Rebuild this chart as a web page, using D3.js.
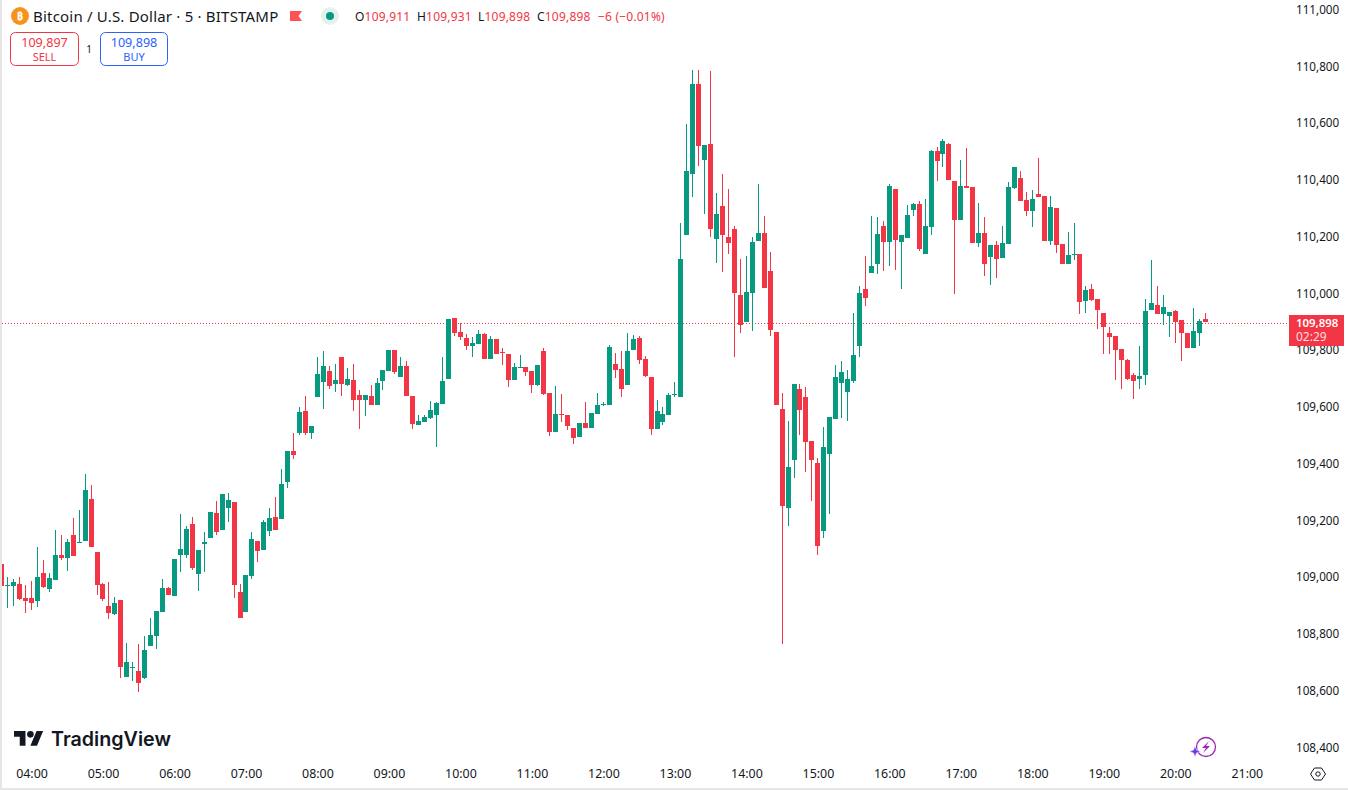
<![CDATA[<!DOCTYPE html>
<html><head><meta charset="utf-8">
<script src="https://cdnjs.cloudflare.com/ajax/libs/d3/7.8.5/d3.min.js"></script>
<style>
html,body{margin:0;padding:0;background:#fff;overflow:hidden}
svg{display:block}
text{font-family:"Noto Sans",sans-serif}
.axis text{font-size:11.7px;fill:#131722}
.taxis text{font-size:12.4px}
</style></head><body><svg id="c" width="1348" height="790"></svg>
<script>
const opens=[109046,108969,108969,108976,108927,108927,108916,109015,108958,108990,109078,109068,109149,109120,109127,109276,109089,108976,108898,108870,108919,108648,108680,108669,108645,108757,108793,108877,108962,108934,109078,109078,109187,109011,109117,109138,109226,109166,109244,109265,108948,108877,109004,109127,109096,109163,109212,109205,
109336,109445,109508,109586,109508,109635,109688,109727,109681,109776,109678,109695,109642,109625,109639,109607,109692,109727,109801,109706,109745,109639,109537,109547,109561,109572,109611,109699,109914,109864,109843,109815,109822,109857,109769,109840,109794,109787,109695,109738,109741,109727,109678,109797,109649,109512,109575,109572,
109526,109494,109543,109526,109575,109607,109607,109751,109734,109677,109801,109843,109769,109706,109522,109547,109572,109642,109635,110206,110421,110738,110470,110527,110192,110308,110199,110227,109995,109899,110002,110185,110213,110079,109864,
109593,109244,109413,109664,109636,109480,109403,109163,109435,109558,109685,109653,
109692,109815,110016,110072,110104,110238,110182,110369,110182,110196,110295,110316,110140,110235,110503,110492,110527,110397,110259,
110379,110375,110178,110213,110129,110171,110125,110174,110372,110407,110330,110291,110351,110344,110185,110301,110174,110104,110136,110139,109973,110016,109981,109931,109861,109850,109804,109765,109713,109699,109713,109942,109959,109928,109921,109938,109906,109861,109808,109861,109911];
const highs=[109046,109001,108994,109001,108972,108986,109106,109060,109015,109166,109149,109135,109209,109237,109364,109325,109089,108979,108983,108930,108919,108768,108701,108764,108793,108856,108881,108994,108965,109064,109223,109180,109212,109096,109159,109230,109268,109293,109297,109265,108976,109008,109159,109127,109201,109244,109283,109381,
109445,109508,109600,109639,109533,109776,109797,109745,109752,109776,109738,109752,109660,109642,109678,109702,109730,109801,109801,109776,109762,109639,109572,109572,109621,109618,109776,109910,109914,109896,109857,109847,109871,109861,109850,109840,109808,109787,109755,109783,109741,109727,109748,109808,109649,109674,109646,109572,
109526,109543,109617,109579,109649,109617,109818,109790,109797,109861,109854,109850,109780,109706,109624,109600,109649,109688,110248,110597,110788,110788,110523,110784,110354,110421,110368,110238,110122,110132,110199,110386,110273,110146,109864,
109650,109551,109681,109681,109671,109480,109421,109530,109565,109748,109762,109731,
109931,110027,110132,110273,110270,110256,110386,110369,110206,110312,110319,110326,110333,110506,110517,110545,110531,110397,110471,
110513,110375,110319,110270,110171,110185,110238,110393,110446,110432,110358,110365,110478,110344,110344,110301,110174,110217,110248,110139,110026,110033,109981,109931,109882,109850,109804,109769,109720,109815,109981,110118,110026,109995,109935,109942,109906,109861,109949,109910,109931];
const lows=[108958,108891,108898,108919,108874,108884,108895,108962,108948,108990,109060,109022,109075,109120,109127,109106,108937,108916,108853,108867,108645,108648,108634,108595,108641,108757,108747,108877,108937,108934,109018,109068,109025,108951,109018,109138,109149,109166,109194,108927,108856,108877,108994,109053,109096,109145,109166,109205,
109315,109417,109501,109501,109487,109635,109593,109664,109653,109639,109674,109586,109523,109568,109607,109607,109660,109727,109716,109706,109639,109523,109537,109547,109558,109459,109611,109699,109850,109836,109801,109776,109822,109769,109769,109787,109748,109671,109695,109738,109709,109649,109674,109642,109498,109512,109547,109519,
109469,109494,109526,109526,109575,109603,109607,109702,109635,109677,109801,109751,109706,109501,109522,109536,109572,109635,109635,110206,110340,110449,110280,110199,110107,110076,110139,109776,109861,109899,109868,110185,110019,109850,109607,
108765,109181,109350,109502,109371,109269,109079,109139,109223,109558,109562,109551,
109685,109776,109956,110072,110069,110080,110097,110083,110016,110196,110273,110150,110140,110206,110397,110446,110400,109998,110259,
110372,110178,110164,110062,110030,110055,110125,110174,110368,110326,110273,110234,110340,110185,110171,110143,110104,110104,110118,109928,109931,109973,109875,109787,109787,109695,109663,109695,109628,109663,109677,109942,109928,109889,109847,109825,109762,109808,109808,109815,109898];
const closes=[108969,108972,108983,108923,108916,108909,109001,108965,108997,109078,109068,109124,109075,109124,109307,109106,108972,108923,108874,108909,108683,108701,108683,108627,108743,108796,108881,108962,108937,109064,109099,109170,109032,109096,109124,109230,109159,109293,109272,108972,108856,109008,109135,109092,109194,109209,109166,109328,
109445,109431,109582,109508,109533,109716,109745,109674,109695,109681,109699,109625,109625,109642,109607,109685,109730,109801,109723,109745,109639,109540,109551,109565,109590,109614,109692,109910,109861,109847,109815,109826,109857,109769,109840,109787,109790,109695,109741,109741,109723,109678,109748,109646,109512,109575,109572,109533,
109491,109543,109526,109579,109607,109610,109811,109730,109663,109797,109840,109765,109709,109522,109586,109575,109642,109646,110122,110432,110738,110520,110523,110227,110280,110206,110178,110002,109889,110005,110181,110213,110019,109871,109607,
109251,109389,109681,109590,109477,109413,109110,109459,109565,109706,109724,109699,
109783,110002,109984,110097,110210,110182,110379,110189,110206,110277,110316,110157,110238,110503,110467,110538,110400,110259,110379,
110372,110178,110213,110104,110171,110122,110178,110375,110446,110326,110291,110333,110340,110185,110305,110171,110104,110136,110139,109970,110012,109977,109942,109882,109847,109801,109765,109699,109691,109709,109938,109966,109928,109952,109935,109900,109861,109808,109868,109903,109898];
const priceTicks=[111000,110800,110600,110400,110200,110000,109800,109600,109400,109200,109000,108800,108600,108400];
const hourTicks=[4,5,6,7,8,9,10,11,12,13,14,15,16,17,18,19,20,21];
const lastPrice=109898, sellPrice="109,897", buyPrice="109,898", countdown="02:29";
const title="Bitcoin / U.S. Dollar · 5 · BITSTAMP";
const ohlcLegend=[["O","109,911",355],["H","109,931",417],["L","109,898",478],["C","109,898",537]];
const changeText="−6 (−0.01%)";

const UP="#089981",DOWN="#F23645",INK="#131722";
const svg=d3.select("#c");
const y=d3.scaleLinear().domain([108400,111000]).range([747.3,9.7]);
const t0=Date.UTC(2025,0,1,0,0);
const hour=h=>new Date(t0+h*3600e3);
const x=d3.scaleUtc().domain([hour(4),hour(21)]).range([31.5,1246.8]);
const candleTime=i=>new Date(hour(4).getTime()+(i-5)*300e3);
const px=i=>Math.floor(x(candleTime(i)));

// price axis (under the last-price label)
const ya=svg.append("g").attr("class","axis").attr("transform","translate(1290,0)")
 .call(d3.axisRight(y).tickValues(priceTicks).tickSize(0).tickPadding(6).tickFormat(d3.format(",")));
ya.select(".domain").remove();
// time axis
const xa=svg.append("g").attr("class","axis taxis").attr("transform","translate(0,769)")
 .call(d3.axisBottom(x).tickValues(hourTicks.map(hour)).tickSize(0).tickPadding(0).tickFormat(d3.utcFormat("%H:%M")));
xa.select(".domain").remove();
xa.selectAll("text").attr("dy","0.71em");

// last price line
svg.append("line").attr("x1",2).attr("x2",1289).attr("y1",Math.ceil(y(lastPrice))+.5).attr("y2",Math.ceil(y(lastPrice))+.5)
 .attr("stroke",DOWN).attr("stroke-width",1).attr("stroke-dasharray","1 2").attr("shape-rendering","crispEdges");

// candles
const idx=d3.range(opens.length);
const col=i=>closes[i]>=opens[i]&&!(i===94)?UP:DOWN;
svg.append("g").attr("shape-rendering","crispEdges").selectAll("rect").data(idx).join("rect")
 .attr("x",px).attr("width",1)
 .attr("y",i=>Math.round(y(highs[i])))
 .attr("height",i=>Math.max(1,Math.round(y(lows[i]))-Math.round(y(highs[i]))))
 .attr("fill",col);
svg.append("g").attr("shape-rendering","crispEdges").selectAll("rect").data(idx).join("rect")
 .attr("x",i=>px(i)-2).attr("width",5)
 .attr("y",i=>Math.round(y(Math.max(opens[i],closes[i]))))
 .attr("height",i=>Math.max(1,Math.round(y(Math.min(opens[i],closes[i])))-Math.round(y(Math.max(opens[i],closes[i])))))
 .attr("fill",col);

// frame strips
svg.append("rect").attr("x",0).attr("y",0).attr("width",2).attr("height",790).attr("fill","#e6e6e6");
svg.append("rect").attr("x",0).attr("y",788).attr("width",1348).attr("height",2).attr("fill","#e6e6e6");

// last price label
const lab=svg.append("g");
lab.append("rect").attr("x",1289).attr("y",315).attr("width",55).attr("height",31).attr("fill",DOWN);
lab.append("text").attr("x",1296).attr("y",327).attr("fill","#fff").attr("font-size",11.4).attr("font-weight",600).text(d3.format(",")(lastPrice));
lab.append("text").attr("x",1296).attr("y",341).attr("fill","#fff").attr("fill-opacity",.85).attr("font-size",12).text(countdown);

// header
const h=svg.append("g");
h.append("circle").attr("cx",20).attr("cy",16).attr("r",9).attr("fill","#F7931A");
h.append("text").attr("x",20).attr("y",20).attr("text-anchor","middle").attr("fill","#fff").attr("font-size",11).attr("font-weight",700).text("₿");
h.append("text").attr("x",33).attr("y",21.5).attr("fill",INK).attr("font-size",15).attr("letter-spacing",.2).text(title);
h.append("path").attr("d","M290 11H302L298.5 16L302 21H290Z").attr("fill","#FF5252");
h.append("circle").attr("cx",330).attr("cy",16).attr("r",9).attr("fill","#e2f3ef");
h.append("circle").attr("cx",330).attr("cy",16).attr("r",4).attr("fill",UP);
ohlcLegend.forEach(([k,v,px0])=>{
  const t=h.append("text").attr("x",px0).attr("y",21).attr("font-size",12).attr("letter-spacing",.2);
  t.append("tspan").attr("fill",INK).text(k);
  t.append("tspan").attr("fill",DOWN).text(v);
});
h.append("text").attr("x",598).attr("y",21).attr("font-size",12).attr("letter-spacing",.2).attr("fill",DOWN).text(changeText);

// sell / buy
function box(bx,w,c,v,l){
  h.append("rect").attr("x",bx+.5).attr("y",32.5).attr("width",w).attr("height",33).attr("rx",5).attr("fill","#fff").attr("stroke",c);
  h.append("text").attr("x",bx+w/2+.5).attr("y",47).attr("text-anchor","middle").attr("fill",c).attr("font-size",12.6).text(v);
  h.append("text").attr("x",bx+w/2+.5).attr("y",61).attr("text-anchor","middle").attr("fill",c).attr("font-size",11).text(l);
}
box(10,68,DOWN,sellPrice,"SELL");
box(100,67,"#2962FF",buyPrice,"BUY");
h.append("text").attr("x",89).attr("y",53).attr("text-anchor","middle").attr("fill",INK).attr("font-size",10).text("1");

// logo
const logo=svg.append("g").attr("transform","translate(14,727.8) scale(.82)").attr("fill",INK);
logo.append("path").attr("d","M14 22H7V11H0V4h14v18zM28 22h-8l7.5-18h8L28 22z");
logo.append("circle").attr("cx",20).attr("cy",8).attr("r",4);
svg.append("text").attr("x",51).attr("y",746).attr("fill",INK).attr("font-size",19.7).attr("font-weight",600)
 .style("font-family","Inter").text("TradingView");

// lightning badge
const b=svg.append("g");
b.append("circle").attr("cx",1206).attr("cy",747).attr("r",9.5).attr("fill","none").attr("stroke","#9C27B0").attr("stroke-width",1.3);
b.append("path").attr("d","M1209 741L1202 748H1206L1203 753L1210 746H1206Z").attr("fill","#9C27B0");
b.append("path").attr("d","M1195 746L1196.5 750L1200.5 751.5L1196.5 753L1195 757L1193.5 753L1189.5 751.5L1193.5 750Z").attr("fill","#6A3DE8").attr("stroke","#fff").attr("stroke-width",.5);

// settings hexagon
const g=svg.append("g").attr("fill","none").attr("stroke",INK).attr("stroke-width",1);
g.append("path").attr("d","M1310.5 774L1314.5 768H1321.5L1325.5 774L1321.5 780H1314.5Z");
g.append("circle").attr("cx",1318).attr("cy",774).attr("r",2.2);
</script></body></html>]]>
